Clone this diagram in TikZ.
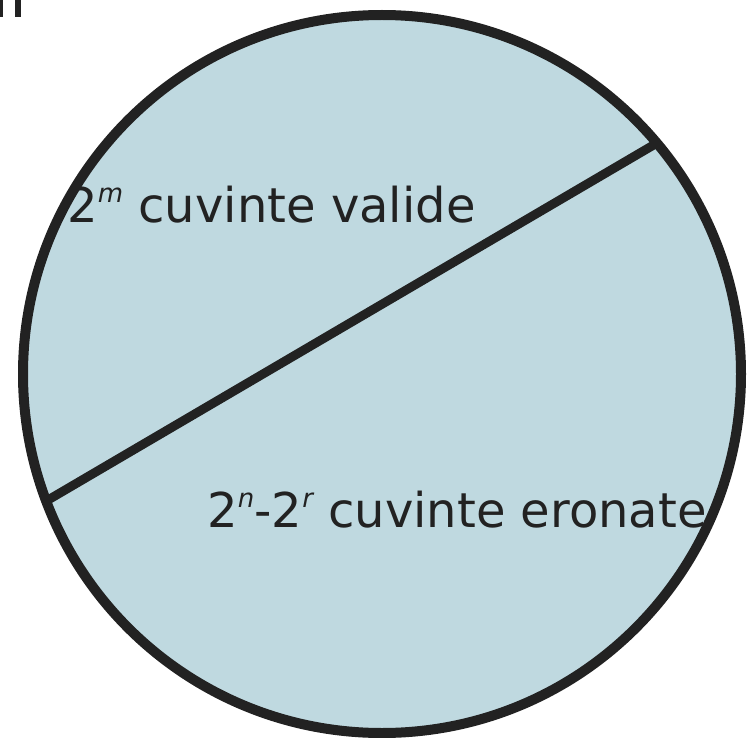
\documentclass[tikz,border=0pt]{standalone}
\usepackage{fontspec}
\setmainfont{DejaVu Sans}
\usepackage{tikz}
\definecolor{Ink}{HTML}{222222}
\definecolor{Pale}{HTML}{BFD9E0}
\newcommand{\sexp}[1]{\raisebox{0.4em}{\fontsize{13}{13}\selectfont\itshape #1}}

\begin{document}
\begin{tikzpicture}[x=0.5pt,y=-0.5pt,
      disk/.style={draw=Ink,fill=Pale,line width=5pt},
      cut/.style={draw=Ink,line width=4.5pt},
      caption/.style={anchor=base west,inner sep=0pt,font=\fontsize{24}{24}\selectfont,text=Ink}
    ]
      \useasboundingbox (0,0) rectangle (750,738);
      \coordinate (c) at (382,374);
      \draw[disk] (c) circle[radius=359*0.5pt];
      \coordinate (p1) at (48,500);
      \coordinate (p2) at (657,143);
      \draw[cut] (p1)--(p2);
      \node[caption] (good) at (67,222) {2\sexp{m} cuvinte valide};
      \node[caption] (bad) at (207,527) {2\sexp{n}-2\sexp{r} cuvinte eronate};
      % cut-off glyph at the top edge
      \fill[Ink] (0,0) rectangle (3,17);
      \fill[Ink] (15,0) rectangle (21,17);
    \end{tikzpicture}
\end{document}
